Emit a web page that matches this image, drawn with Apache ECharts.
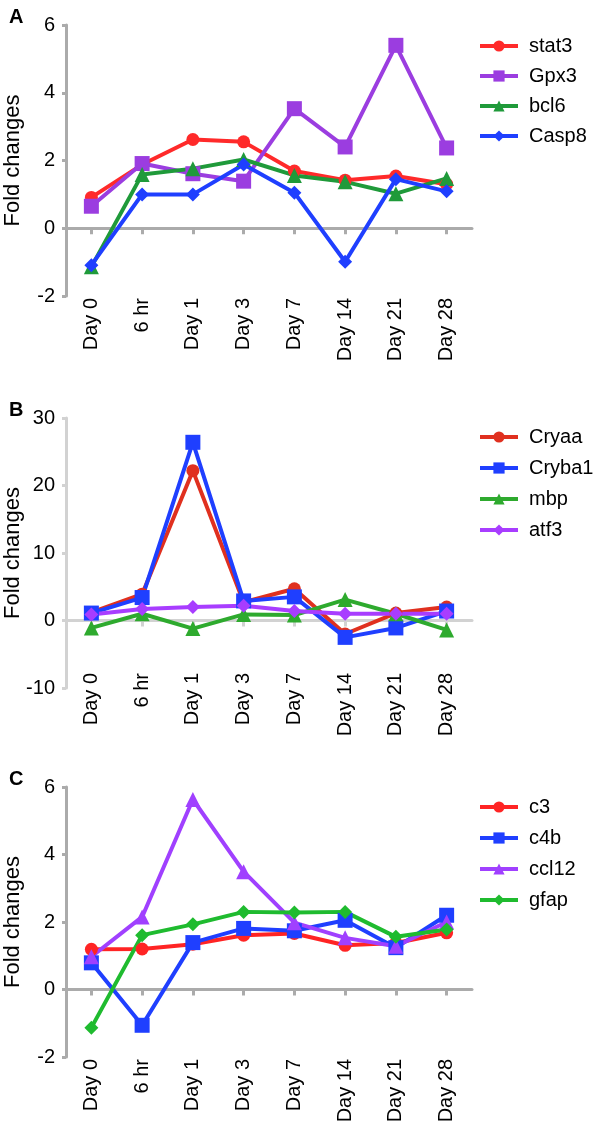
<!DOCTYPE html>
<html>
<head>
<meta charset="utf-8">
<script src="https://cdn.jsdelivr.net/npm/echarts@6/dist/echarts.min.js"></script>
<style>
  html, body { margin: 0; padding: 0; background: #fff; }
  #chart { width: 600px; height: 1124px; }
</style>
</head>
<body>
<div id="chart"></div>
<script>
// 时间点
var days = ['Day 0', '6 hr', 'Day 1', 'Day 3', 'Day 7', 'Day 14', 'Day 21', 'Day 28'];

// A
var stat3 = [0.91, 1.88, 2.62, 2.55, 1.69, 1.42, 1.54, 1.3];
var gpx3  = [0.65, 1.91, 1.61, 1.39, 3.53, 2.4, 5.4, 2.37];
var bcl6  = [-1.14, 1.59, 1.76, 2.03, 1.56, 1.37, 1.02, 1.47];
var casp8 = [-1.09, 1.0, 1.0, 1.88, 1.05, -0.99, 1.45, 1.09];

// B
var cryaa  = [1.2, 3.9, 22.2, 2.7, 4.7, -2.0, 1.1, 2.0];
var cryba1 = [1.1, 3.4, 26.4, 2.9, 3.5, -2.5, -1.1, 1.4];
var mbp    = [-1.1, 1.0, -1.2, 0.9, 0.8, 3.1, 1.0, -1.4];
var atf3   = [0.9, 1.7, 2.0, 2.2, 1.4, 1.0, 1.0, 1.0];

// C
var c3    = [1.19, 1.2, 1.34, 1.61, 1.66, 1.31, 1.38, 1.68];
var c4b   = [0.79, -1.06, 1.39, 1.81, 1.74, 2.05, 1.24, 2.2];
var ccl12 = [0.97, 2.15, 5.63, 3.49, 1.98, 1.53, 1.28, 2.0];
var gfap  = [-1.13, 1.61, 1.93, 2.3, 2.28, 2.3, 1.56, 1.78];

var font = 'Liberation Sans, Arial, Helvetica, sans-serif';
var symbols = ['circle', 'rect', 'triangle', 'diamond'];
var sizes = {circle: 13, rect: 15, triangle: 15, diamond: 14};

// 三个面板的位置
var panels = [
    {label: 'A', top: 25, height: 271, min: -2, max: 6, interval: 2, axisColor: '#ababab', labelMargin: 2,
     legendTop: 31, legendGap: 10,
     names: ['stat3', 'Gpx3', 'bcl6', 'Casp8'], data: [stat3, gpx3, bcl6, casp8],
     colors: ['#ff2a2a', '#9b3de0', '#1f9a3a', '#1f3fff']},
    {label: 'B', top: 418, height: 270, min: -10, max: 30, interval: 10, axisColor: '#d2d2d2', labelMargin: -15,
     legendTop: 422, legendGap: 11,
     names: ['Cryaa', 'Cryba1', 'mbp', 'atf3'], data: [cryaa, cryba1, mbp, atf3],
     colors: ['#e0301f', '#1f3fff', '#2eaa2e', '#a83dff']},
    {label: 'C', top: 787, height: 270, min: -2, max: 6, interval: 2, axisColor: '#ababab', labelMargin: 2,
     legendTop: 792, legendGap: 11,
     names: ['c3', 'c4b', 'ccl12', 'gfap'], data: [c3, c4b, ccl12, gfap],
     colors: ['#ff2424', '#1f3fff', '#a040ff', '#1fbb2f']}
];

var option = {
    backgroundColor: '#ffffff',
    animation: false,
    title: [], grid: [], xAxis: [], yAxis: [], legend: [], series: []
};

panels.forEach(function (p, i) {
    option.title.push({
        text: p.label, left: 4, top: p.top - 23,
        textStyle: {fontFamily: font, fontSize: 20, fontWeight: 'bold', color: '#000'}
    });
    option.grid.push({left: 66, width: 406, top: p.top, height: p.height, outerBoundsMode: 'none', containLabel: false});
    // 底部只放标签
    option.xAxis.push({
        type: 'category', gridIndex: i, data: days, position: 'bottom',
        axisLine: {show: false, onZero: false}, axisTick: {show: false},
        axisLabel: {rotate: 90, margin: p.labelMargin, fontFamily: font, fontSize: 20, color: '#000'}
    });
    // 零线和刻度
    option.xAxis.push({
        type: 'category', gridIndex: i, data: days, position: 'bottom',
        axisLine: {show: true, onZero: true, lineStyle: {color: p.axisColor, width: 3}},
        axisTick: {show: true, alignWithLabel: true, length: 6, lineStyle: {color: p.axisColor, width: 3}},
        axisLabel: {show: false}
    });
    option.yAxis.push({
        type: 'value', gridIndex: i, min: p.min, max: p.max, interval: p.interval,
        name: 'Fold changes', nameLocation: 'middle', nameGap: 42, nameMoveOverlap: false,
        nameTextStyle: {fontFamily: font, fontSize: 22, color: '#000'},
        axisLine: {show: true, lineStyle: {color: p.axisColor, width: 3}},
        axisTick: {show: true, length: 4, lineStyle: {color: p.axisColor, width: 3}},
        axisLabel: {margin: 11, fontFamily: font, fontSize: 20, color: '#000'},
        splitLine: {show: false}
    });
    option.legend.push({
        data: p.names, orient: 'vertical', left: 473, top: p.legendTop,
        itemWidth: 38, itemHeight: 14, itemGap: p.legendGap,
        lineStyle: {width: 4},
        textStyle: {fontFamily: font, fontSize: 20, color: '#000', padding: [0, 0, 0, 6]}
    });
    p.names.forEach(function (n, k) {
        option.series.push({
            name: n, type: 'line', data: p.data[k],
            xAxisIndex: i * 2, yAxisIndex: i,
            symbol: symbols[k], symbolSize: sizes[symbols[k]],
            lineStyle: {color: p.colors[k], width: 4},
            itemStyle: {color: p.colors[k]}
        });
    });
});

var myChart = echarts.init(document.getElementById('chart'));
myChart.setOption(option);
</script>
</body>
</html>
